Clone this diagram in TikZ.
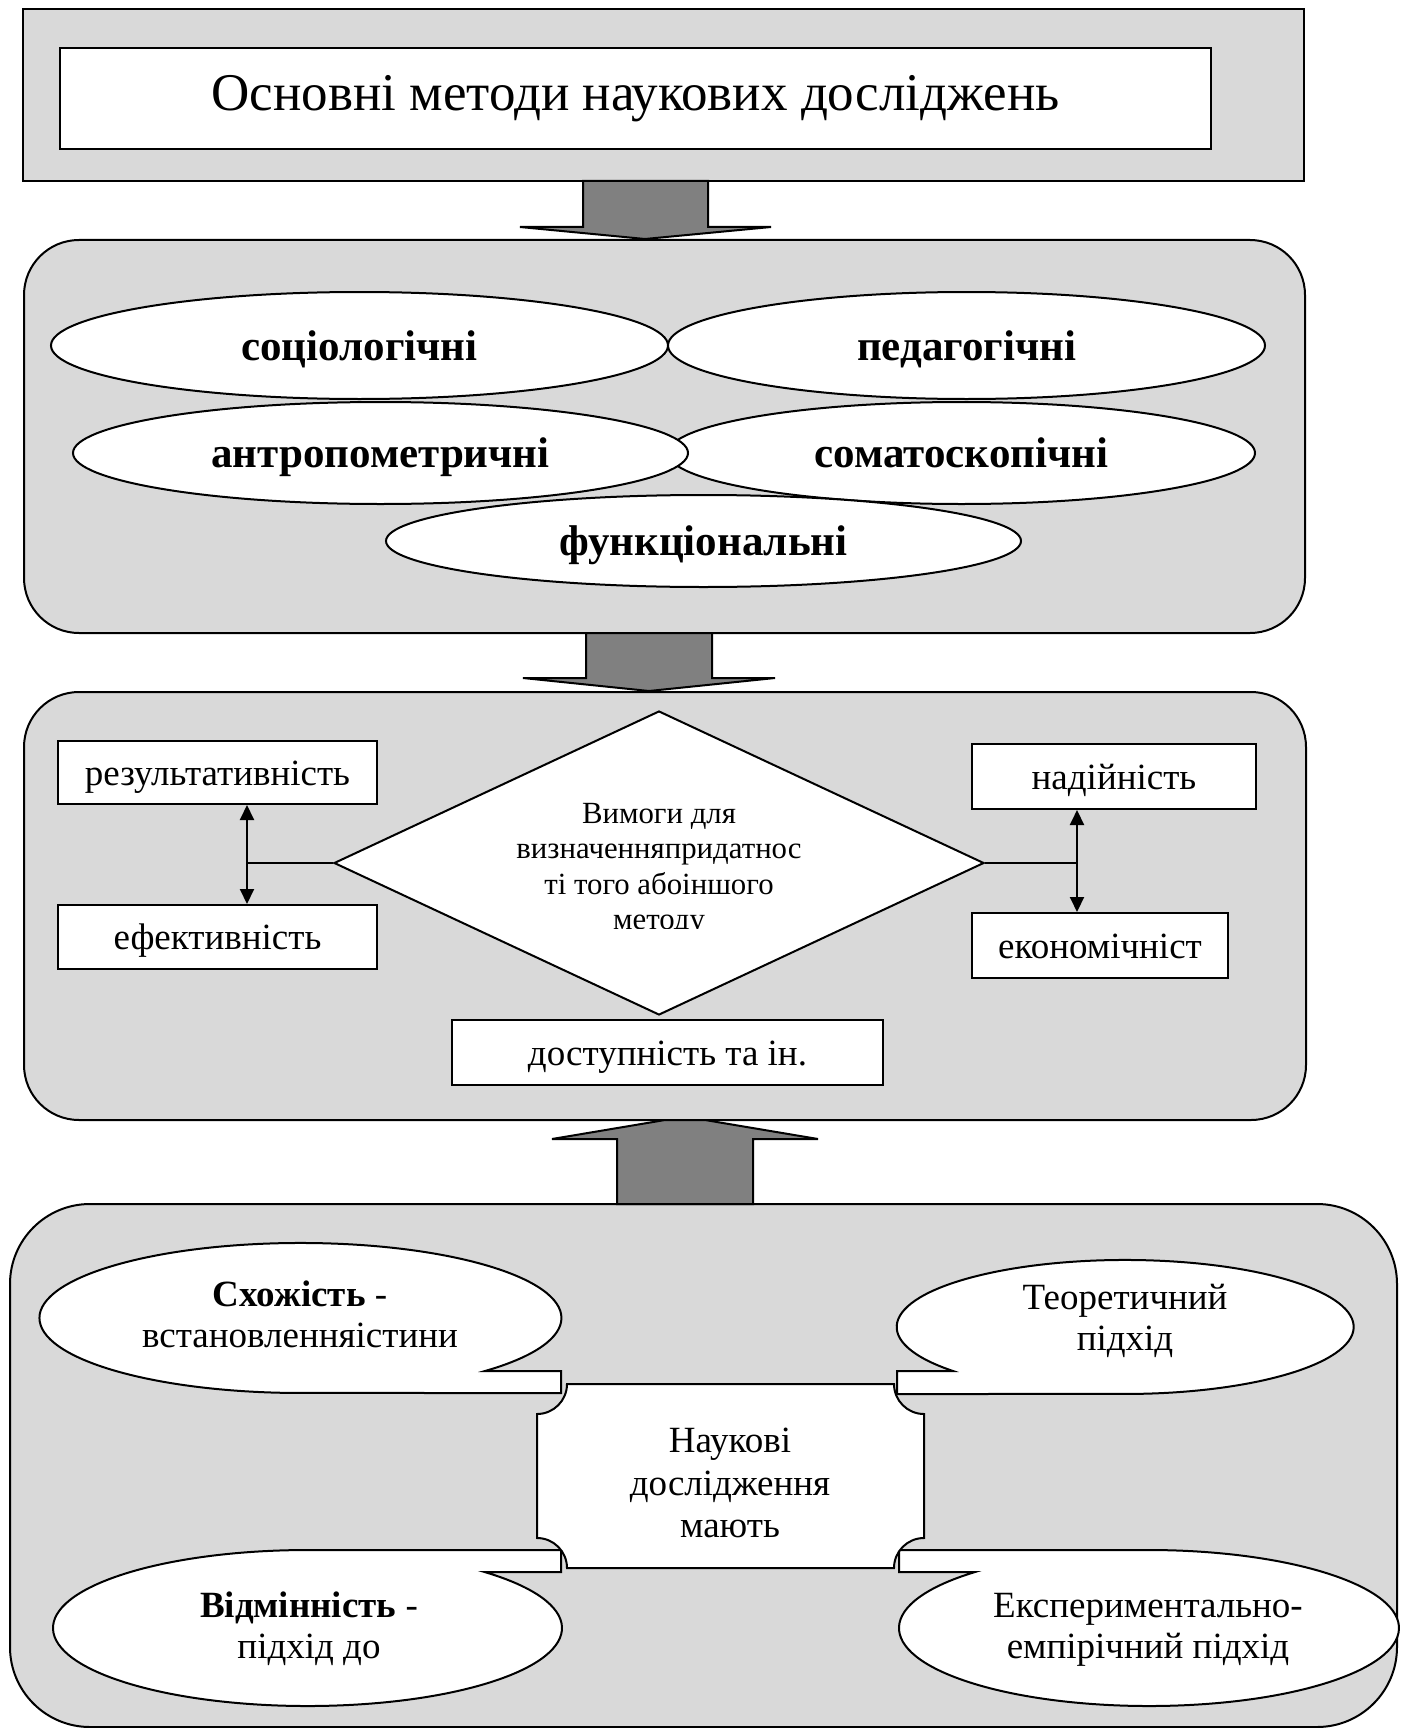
\documentclass[tikz,border=0pt]{standalone}
\usepackage{fontspec}
\setmainfont{Liberation Serif}
\usepackage{tikz}
\usetikzlibrary{shapes.geometric,arrows.meta}
\definecolor{panelgray}{RGB}{217,217,217}
\definecolor{arrowgray}{RGB}{128,128,128}
\tikzset{
  panel/.style={draw, line width=1pt, fill=panelgray},
  blockarrow/.style={draw, line width=1pt, fill=arrowgray, line join=miter},
  titlebox/.style={rectangle, draw, line width=1pt, fill=white, inner sep=0pt, font=\fontsize{26.5pt}{30pt}\selectfont},
  method/.style={ellipse, draw, line width=1pt, fill=white, inner sep=0pt, text height=14.5pt, text depth=0pt, font=\fontsize{21.5pt}{24pt}\selectfont\bfseries},
  crit/.style={rectangle, draw, line width=1pt, fill=white, inner sep=0pt, text height=12.5pt, text depth=0pt, font=\fontsize{18.5pt}{20.5pt}\selectfont},
  req/.style={diamond, draw, line width=1pt, fill=white, inner sep=0pt},
  reqtext/.style={align=center, inner sep=0pt, font=\fontsize{15.4pt}{17.75pt}\selectfont},
  callout/.style={draw, line width=1pt, fill=white, line join=miter},
  notetext/.style={align=center, inner sep=0pt, font=\fontsize{18.5pt}{20.5pt}\selectfont},
  link/.style={line width=1pt},
  dbl/.style={line width=1pt, {Triangle[length=7.5pt,width=7pt]}-{Triangle[length=7.5pt,width=7pt]}}
}
\begin{document}
\begin{tikzpicture}
[x=0.5pt,y=0.5pt,yscale=-1,xscale=1]
\useasboundingbox (0,0) rectangle (1406,1728);

% panels
\draw[panel] (23,9) rectangle (1304,181);
\draw[panel, rounded corners=27.5pt] (24,240) rectangle (1305,633);
\draw[panel, rounded corners=27.5pt] (24,692) rectangle (1306,1120);
\draw[panel, rounded corners=40pt] (10,1204) rectangle (1397,1727);

\draw[blockarrow] (583,181) -- (583,227) -- (520,227) -- (645,239) -- (771,227) -- (708,227) -- (708,181) -- cycle;
\draw[blockarrow] (586,633) -- (586,678) -- (523,678) -- (649,691) -- (775,678) -- (712,678) -- (712,633) -- cycle;
\draw[blockarrow] (617,1204) -- (617,1139) -- (552,1139) -- (665,1120) -- (705,1120) -- (818,1139) -- (753,1139) -- (753,1204) -- cycle;

\node[titlebox, minimum width=575.5pt, minimum height=50.5pt] (ttl) at (635.5,99) {Основні методи наукових досліджень};

\node[method, minimum width=308.5pt, minimum height=53.5pt] (soc) at (359.5,345.5) {соціологічні};
\node[method, minimum width=298.5pt, minimum height=53.5pt] (ped) at (966.5,345.5) {педагогічні};
\node[method, minimum width=293.5pt, minimum height=51pt] (som) at (961.5,453) {соматоскопічні};
\node[method, minimum width=307.5pt, minimum height=51pt] (ant) at (380.5,453) {антропометричні};
\node[method, minimum width=317.5pt, minimum height=46pt] (fun) at (703.5,541) {функціональні};

\node[req, minimum width=325pt, minimum height=152pt] (req) at (659,863) {};
\begin{scope}
\clip (334,700) rectangle (984,928.5);
\node[reqtext] (reqtxt) at (659,869.5) {Вимоги для\\визначенняпридатнос\\ті того абоіншого\\методу};
\end{scope}

\node[crit, minimum width=159.5pt, minimum height=31.5pt] (res) at (217.5,772.5) {результативність};
\node[crit, minimum width=159.5pt, minimum height=32pt] (eff) at (217.5,937) {ефективність};
\node[crit, minimum width=142pt, minimum height=32.5pt] (nad) at (1114,776.5) {надійність};
\node[crit, minimum width=128pt, minimum height=32.5pt] (eko) at (1100,945.5) {економічніст};
\node[crit, minimum width=215.5pt, minimum height=32.5pt] (dost) at (667.5,1052.5) {доступність та ін.};

\coordinate (jl) at (247,863);
\coordinate (jr) at (1077,863);
\draw[link] (req.west) -- (jl);
\draw[link] (req.east) -- (jr);
\draw[dbl] (res.south -| jl) -- (eff.north -| jl);
\draw[dbl] (nad.south -| jr) -- (eko.north -| jr);

% callouts round the plaque
\draw[callout] (485,1371) arc[start angle=45, end angle=-270, x radius=261, y radius=75] -- (561,1393) -- (561,1371) -- cycle;
\draw[callout] (953,1371) arc[start angle=138.9, end angle=450, x radius=228.5, y radius=67] -- (897,1394) -- (897,1371) -- cycle;
\draw[callout] (484.6,1572) arc[start angle=-45.9, end angle=270, x radius=254.5, y radius=78] -- (561,1550) -- (561,1572) -- cycle;
\draw[callout] (975,1572) arc[start angle=225.9, end angle=-90, x radius=250, y radius=78] -- (899,1550) -- (899,1572) -- cycle;
\draw[callout] (567,1384) -- (894,1384) arc[start angle=180, end angle=90, radius=30] -- (924,1538) arc[start angle=270, end angle=180, radius=30] -- (567,1568) arc[start angle=0, end angle=-90, radius=30] -- (537,1414) arc[start angle=90, end angle=0, radius=30] -- cycle;

\node[notetext] (sim) at (300,1314) {\textbf{Схожість} -\\встановленняістини};
\node[notetext] (theo) at (1125,1321) {Теоретичний\\підхід};
\node[notetext] (dif) at (309,1629) {\textbf{Відмінність} -\\підхід до};
\node[notetext] (expr) at (1148,1630) {Експериментально-\\емпірічний підхід};
\node[notetext, font=\fontsize{18.5pt}{21.25pt}\selectfont] (sci) at (730,1483) {Наукові\\дослідження\\мають};

\end{tikzpicture}
\end{document}
